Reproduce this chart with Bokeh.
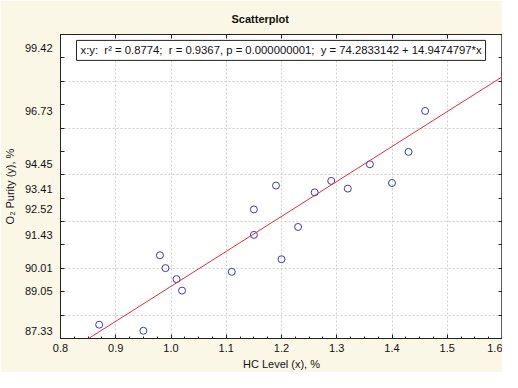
from bokeh.plotting import figure
from bokeh.models import (LinearAxis, FixedTicker, SingleIntervalTicker,
                          NumeralTickFormatter, Slope, Label, Range1d)
from bokeh.embed import file_html
from bokeh.resources import INLINE

# data: HC level (x, %) vs O2 purity (y, %)
hc_level = [0.99, 1.02, 1.15, 1.29, 1.46, 1.36, 0.87, 1.23, 1.55, 1.40,
            1.19, 1.15, 0.98, 1.01, 1.11, 1.20, 1.26, 1.32, 1.43, 0.95]
o2_purity = [90.01, 89.05, 91.43, 93.74, 96.73, 94.45, 87.59, 91.77, 99.42, 93.65,
             93.54, 92.52, 90.56, 89.54, 89.85, 90.39, 93.25, 93.41, 94.98, 87.33]

y_tick_labels = [87.33, 89.05, 90.01, 91.43, 92.52, 93.41, 94.45, 96.73, 99.42]
y_minor_ticks = [87, 88, 89, 90, 91, 92, 93, 94, 95, 96, 97, 98, 99, 100]
x_top_ticks = [0.8, 0.9, 1.0, 1.1, 1.2, 1.3, 1.4, 1.5, 1.6]

intercept = 74.2833142
slope = 14.9474797
r_squared = 0.8774
r_value = 0.9367
p_value = "0.000000001"

FONT = "Liberation Sans"
BG = "#FBF7E6"

p = figure(width=502, height=372, x_range=Range1d(0.8, 1.6), y_range=Range1d(87, 100),
           output_backend="svg", toolbar_location=None,
           min_border_left=53, min_border_right=0, min_border_top=30, min_border_bottom=0,
           background_fill_color="white", border_fill_color=BG,
           outline_line_color="#333333")

p.title.text = "Scatterplot"
p.title.text_font = FONT
p.title.text_font_size = "11px"
p.title.text_font_style = "bold"
p.title.text_color = "#111111"
p.title.align = "left"
p.title.offset = 171
p.title.standoff = 20

# bottom axis
xa = p.xaxis[0]
xa.ticker = SingleIntervalTicker(interval=0.1, num_minor_ticks=4)
xa.formatter = NumeralTickFormatter(format="0.0")
xa.axis_label = "HC Level (x), %"
# left axis
ya = p.yaxis[0]
ya.ticker = FixedTicker(ticks=y_tick_labels, minor_ticks=y_minor_ticks)
ya.formatter = NumeralTickFormatter(format="0.00")
ya.axis_label = "O\u2082 Purity (y), %"

for ax in (xa, ya):
    ax.axis_label_text_font = FONT
    ax.axis_label_text_font_size = "11px"
    ax.axis_label_text_font_style = "normal"
    ax.axis_label_text_color = "#111111"
    ax.major_label_text_font = FONT
    ax.major_label_text_font_size = "11px"
    ax.major_label_text_color = "#111111"
    ax.axis_line_color = "#222222"
    ax.major_tick_line_color = "#222222"
    ax.minor_tick_line_color = "#222222"
    ax.major_tick_out = 0
    ax.minor_tick_out = 0

xa.major_tick_in = 4
xa.minor_tick_in = 2
xa.major_label_standoff = 5
xa.axis_label_standoff = 3
ya.major_tick_in = 0
ya.minor_tick_in = 4
ya.major_label_standoff = 8
ya.axis_label_standoff = 6

top_axis = LinearAxis(ticker=FixedTicker(ticks=[], minor_ticks=x_top_ticks),
                      major_tick_in=0, major_tick_out=0, minor_tick_in=4, minor_tick_out=0,
                      major_label_standoff=0,
                      axis_line_color="#222222", minor_tick_line_color="#222222")
p.add_layout(top_axis, "above")
right_axis = LinearAxis(ticker=FixedTicker(ticks=[], minor_ticks=y_minor_ticks),
                        major_tick_in=0, major_tick_out=0, minor_tick_in=4, minor_tick_out=0,
                        major_label_standoff=0,
                        axis_line_color="#888888", axis_line_width=2,
                        minor_tick_line_color="#222222")
p.add_layout(right_axis, "right")

p.ygrid.ticker = SingleIntervalTicker(interval=2)
for g in (p.xgrid[0], p.ygrid[0]):
    g.grid_line_color = "#cfcfcf"
    g.grid_line_dash = "2 2"

p.add_layout(Slope(gradient=slope, y_intercept=intercept, line_color="#e0303c", line_width=1))

p.scatter(hc_level, o2_purity, marker="circle", size=7, fill_color=None,
          line_color="#3a3ab8", line_width=1)

sp = "\u00a0"
stats = (f"x:y:{sp} r\u00b2 = {r_squared:.4f};{sp} r = {r_value:.4f}, p = {p_value};{sp} "
         f"y = {intercept:.7f} + {slope:.7f}*x")
p.add_layout(Label(x=0.829, y=99.32, text=stats, text_font=FONT, text_font_size="11.3px",
                   text_color="#111111", text_align="left", text_baseline="middle",
                   background_fill_color="white", border_line_color="#222222",
                   padding=4))

open("out.html", "w").write(file_html(p, INLINE))
